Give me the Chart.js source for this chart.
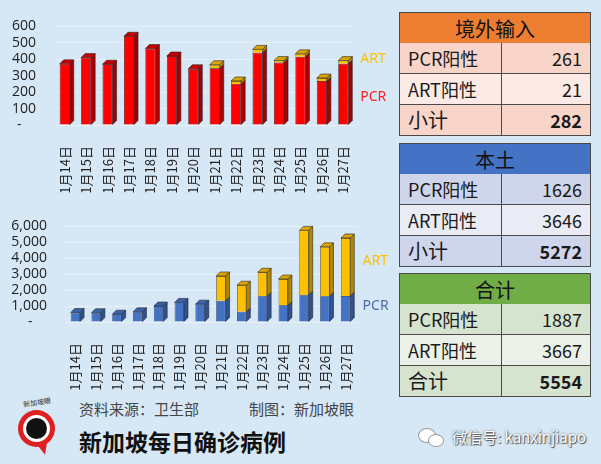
<!DOCTYPE html>
<html>
<head>
<meta charset="utf-8">
<script src="https://cdn.jsdelivr.net/npm/chart.js@4"></script>
<style>
  body { margin: 0; width: 601px; height: 464px; overflow: hidden; background: #d6e7f6; font-family: "Noto Sans CJK SC", "Noto Sans", sans-serif; position: relative; }
  canvas { position: absolute; left: 0; }
  .tbl { position: absolute; left: 399px; width: 192px; }
  .row { position: absolute; left: 0; width: 190px; height: 30px; border: 1px solid #4a4a4a; border-top: none; display: flex; }
  .row.head { border-top: 1px solid #4a4a4a; justify-content: center; align-items: center; font-size: 20px; color: #111; }
  .row .l { width: 93px; border-right: 1px solid #4a4a4a; padding-left: 8px; line-height: 30px; font-size: 18px; color: #1a1a1a; }
  .row .r { flex: 1; text-align: right; padding-right: 8px; line-height: 30px; font-size: 18px; color: #1a1a1a; }
  .row .big { font-size: 20px; }
  .row .b { font-weight: bold; }
  .foot { position: absolute; color: #444; font-size: 15px; line-height: 1; white-space: nowrap; }
</style>
</head>
<body>
<canvas id="topChart" width="395" height="200" style="top:0"></canvas>
<canvas id="bottomChart" width="395" height="195" style="top:200px"></canvas>

<div class="tbl" style="top:12px">
  <div class="row head" style="top:0;background:#ed7d31">境外输入</div>
  <div class="row" style="top:31px;background:#f8d5c8"><div class="l">PCR阳性</div><div class="r">261</div></div>
  <div class="row" style="top:62px;background:#fbeae5"><div class="l">ART阳性</div><div class="r">21</div></div>
  <div class="row" style="top:93px;background:#f8d5c8"><div class="l big">小计</div><div class="r b">282</div></div>
</div>
<div class="tbl" style="top:143px">
  <div class="row head" style="top:0;background:#4472c4">本土</div>
  <div class="row" style="top:31px;background:#cfd5ea"><div class="l">PCR阳性</div><div class="r">1626</div></div>
  <div class="row" style="top:62px;background:#e9ebf5"><div class="l">ART阳性</div><div class="r">3646</div></div>
  <div class="row" style="top:93px;background:#cfd5ea"><div class="l big">小计</div><div class="r b">5272</div></div>
</div>
<div class="tbl" style="top:273px">
  <div class="row head" style="top:0;background:#70ad47">合计</div>
  <div class="row" style="top:31px;background:#d5e3cf"><div class="l">PCR阳性</div><div class="r">1887</div></div>
  <div class="row" style="top:62px;background:#ebf1e9"><div class="l">ART阳性</div><div class="r">3667</div></div>
  <div class="row" style="top:93px;background:#d5e3cf"><div class="l big">合计</div><div class="r b">5554</div></div>
</div>

<!-- logo -->
<div style="position:absolute;left:18px;top:410px;width:37px;height:37px;border-radius:50%;background:#e02020;"></div>
<div style="position:absolute;left:36px;top:439px;width:0;height:0;border-left:7px solid transparent;border-right:7px solid transparent;border-top:16px solid #e02020;transform:rotate(-15deg)"></div>
<div style="position:absolute;left:23px;top:415px;width:27px;height:27px;border-radius:50%;background:#fff;"></div>
<div style="position:absolute;left:26px;top:418px;width:21px;height:21px;border-radius:50%;background:#111;"></div>
<div style="position:absolute;left:23px;top:397px;font-size:7px;color:#333;transform:rotate(-8deg)">新加坡眼</div>

<div class="foot" style="left:79px;top:401px;">资料来源：卫生部</div>
<div class="foot" style="left:249px;top:401px;">制图：新加坡眼</div>
<div class="foot" style="left:79px;top:430px;font-size:23px;font-weight:bold;color:#111;">新加坡每日确诊病例</div>

<!-- wechat icon -->
<div style="position:absolute;left:418px;top:428px;width:16px;height:13px;border-radius:50%;background:#fff;border:1px solid #999;"></div>
<div style="position:absolute;left:428px;top:434px;width:14px;height:11px;border-radius:50%;background:#fff;border:1px solid #999;"></div>
<div class="foot" style="left:452px;top:429px;color:#fff;text-shadow:0 0 2px #555,1px 1px 1px #555;">微信号: kanxinjiapo</div>

<script>
// data
const dates = ['1月14日', '1月15日', '1月16日', '1月17日', '1月18日', '1月19日', '1月20日',
               '1月21日', '1月22日', '1月23日', '1月24日', '1月25日', '1月26日', '1月27日'];
const importPCR = [372, 410, 370, 540, 465, 420, 342, 345, 250, 440, 380, 415, 268, 372];
const importART = [0, 0, 0, 0, 0, 0, 0, 22, 18, 20, 12, 18, 18, 20];
const localPCR = [600, 580, 490, 640, 1000, 1230, 1120, 1330, 650, 1620, 1050, 1700, 1620, 1626];
const localART = [0, 0, 0, 0, 0, 0, 0, 1560, 1660, 1500, 1650, 4050, 3100, 3646];
const topMax = 600, topStep = 100;
const bottomMax = 6000, bottomStep = 1000;

// fake excel-style 3D bars
const bar3d = {
    id: 'bar3d',
    afterDatasetsDraw: function (chart, args, opts) {
        const ctx = chart.ctx;
        const d = opts.depth;
        const sets = chart.data.datasets;
        chart.data.labels.forEach(function (lab, j) {
            let topIdx = -1;
            sets.forEach(function (ds, i) { if (ds.data[j] > 0) topIdx = i; });
            sets.forEach(function (ds, i) {
                if (!(ds.data[j] > 0)) return;
                const el = chart.getDatasetMeta(i).data[j];
                const l = el.x - el.width / 2, r = el.x + el.width / 2;
                const top = Math.min(el.y, el.base), bot = Math.max(el.y, el.base);
                ctx.save();
                ctx.lineWidth = 0.7;
                ctx.strokeStyle = 'rgba(30,30,30,0.8)';
                ctx.fillStyle = ds.sideColor;
                ctx.beginPath();
                ctx.moveTo(r, top); ctx.lineTo(r + d, top - d); ctx.lineTo(r + d, bot - d); ctx.lineTo(r, bot);
                ctx.closePath(); ctx.fill(); ctx.stroke();
                if (i === topIdx) {
                    ctx.fillStyle = ds.topColor;
                    ctx.beginPath();
                    ctx.moveTo(l, top); ctx.lineTo(l + d, top - d); ctx.lineTo(r + d, top - d); ctx.lineTo(r, top);
                    ctx.closePath(); ctx.fill(); ctx.stroke();
                }
                ctx.restore();
            });
        });
    }
};

// "PCR" / "ART" names next to the last bar
const seriesLabels = {
    id: 'seriesLabels',
    afterDatasetsDraw: function (chart, args, opts) {
        const ctx = chart.ctx;
        const last = chart.data.labels.length - 1;
        chart.data.datasets.forEach(function (ds, i) {
            const el = chart.getDatasetMeta(i).data[last];
            const y = (el.y + el.base) / 2 + opts.offsets[i];
            ctx.save();
            ctx.font = '14px "Noto Sans", sans-serif';
            ctx.fillStyle = ds.labelColor;
            ctx.textBaseline = 'middle';
            ctx.fillText(ds.label, el.x + 17, y);
            ctx.restore();
        });
    }
};

function makeOptions(max, step, yWidth, xHeight, pad, barPct, offsets) {
    return {
        responsive: false,
        animation: false,
        layout: { padding: pad },
        plugins: {
            legend: { display: false },
            tooltip: { enabled: false },
            bar3d: { depth: 4 },
            seriesLabels: { offsets: offsets }
        },
        datasets: { bar: { categoryPercentage: 1, barPercentage: barPct } },
        scales: {
            x: {
                stacked: true,
                grid: { display: false },
                border: { display: false },
                ticks: { minRotation: 90, maxRotation: 90, autoSkip: false, padding: 13, color: '#222', font: { family: 'Noto Sans CJK SC', size: 13 } },
                afterFit: function (s) { s.height = xHeight; }
            },
            y: {
                stacked: true,
                min: 0, max: max,
                grid: { color: 'rgba(235,240,245,0.9)', drawTicks: false },
                border: { display: false },
                ticks: {
                    stepSize: step, autoSkip: false, padding: 18, color: '#222',
                    font: { family: 'Open Sans', size: 14 },
                    callback: function (v) { return v === 0 ? '-    ' : v.toLocaleString('en-US'); }
                },
                afterFit: function (s) { s.width = yWidth; }
            }
        }
    };
}

new Chart(document.getElementById('topChart'), {
    type: 'bar',
    data: {
        labels: dates,
        datasets: [
            { label: 'PCR', data: importPCR, backgroundColor: '#ff0000', borderColor: '#3a0000', borderWidth: 0.7,
              sideColor: '#a80000', topColor: '#c80000', labelColor: '#ff2020' },
            { label: 'ART', data: importART, backgroundColor: '#ffc000', borderColor: '#4a3a00', borderWidth: 0.7,
              sideColor: '#b38600', topColor: '#d9a300', labelColor: '#ffc000' }
        ]
    },
    options: makeOptions(topMax, topStep, 44, 69, { top: 19, right: 41, left: 10, bottom: 6 }, 0.47, [3, -3]),
    plugins: [bar3d, seriesLabels]
});

new Chart(document.getElementById('bottomChart'), {
    type: 'bar',
    data: {
        labels: dates,
        datasets: [
            { label: 'PCR', data: localPCR, backgroundColor: '#4472c4', borderColor: '#1c2f55', borderWidth: 0.7,
              sideColor: '#2f5290', topColor: '#3a62aa', labelColor: '#4a6fa5' },
            { label: 'ART', data: localART, backgroundColor: '#ffc000', borderColor: '#4a3a00', borderWidth: 0.7,
              sideColor: '#b38600', topColor: '#d9a300', labelColor: '#ffc000' }
        ]
    },
    options: makeOptions(bottomMax, bottomStep, 57, 71, { top: 16, right: 39, left: 8, bottom: 2 }, 0.45, [-3, -6]),
    plugins: [bar3d, seriesLabels]
});
</script>
</body>
</html>
